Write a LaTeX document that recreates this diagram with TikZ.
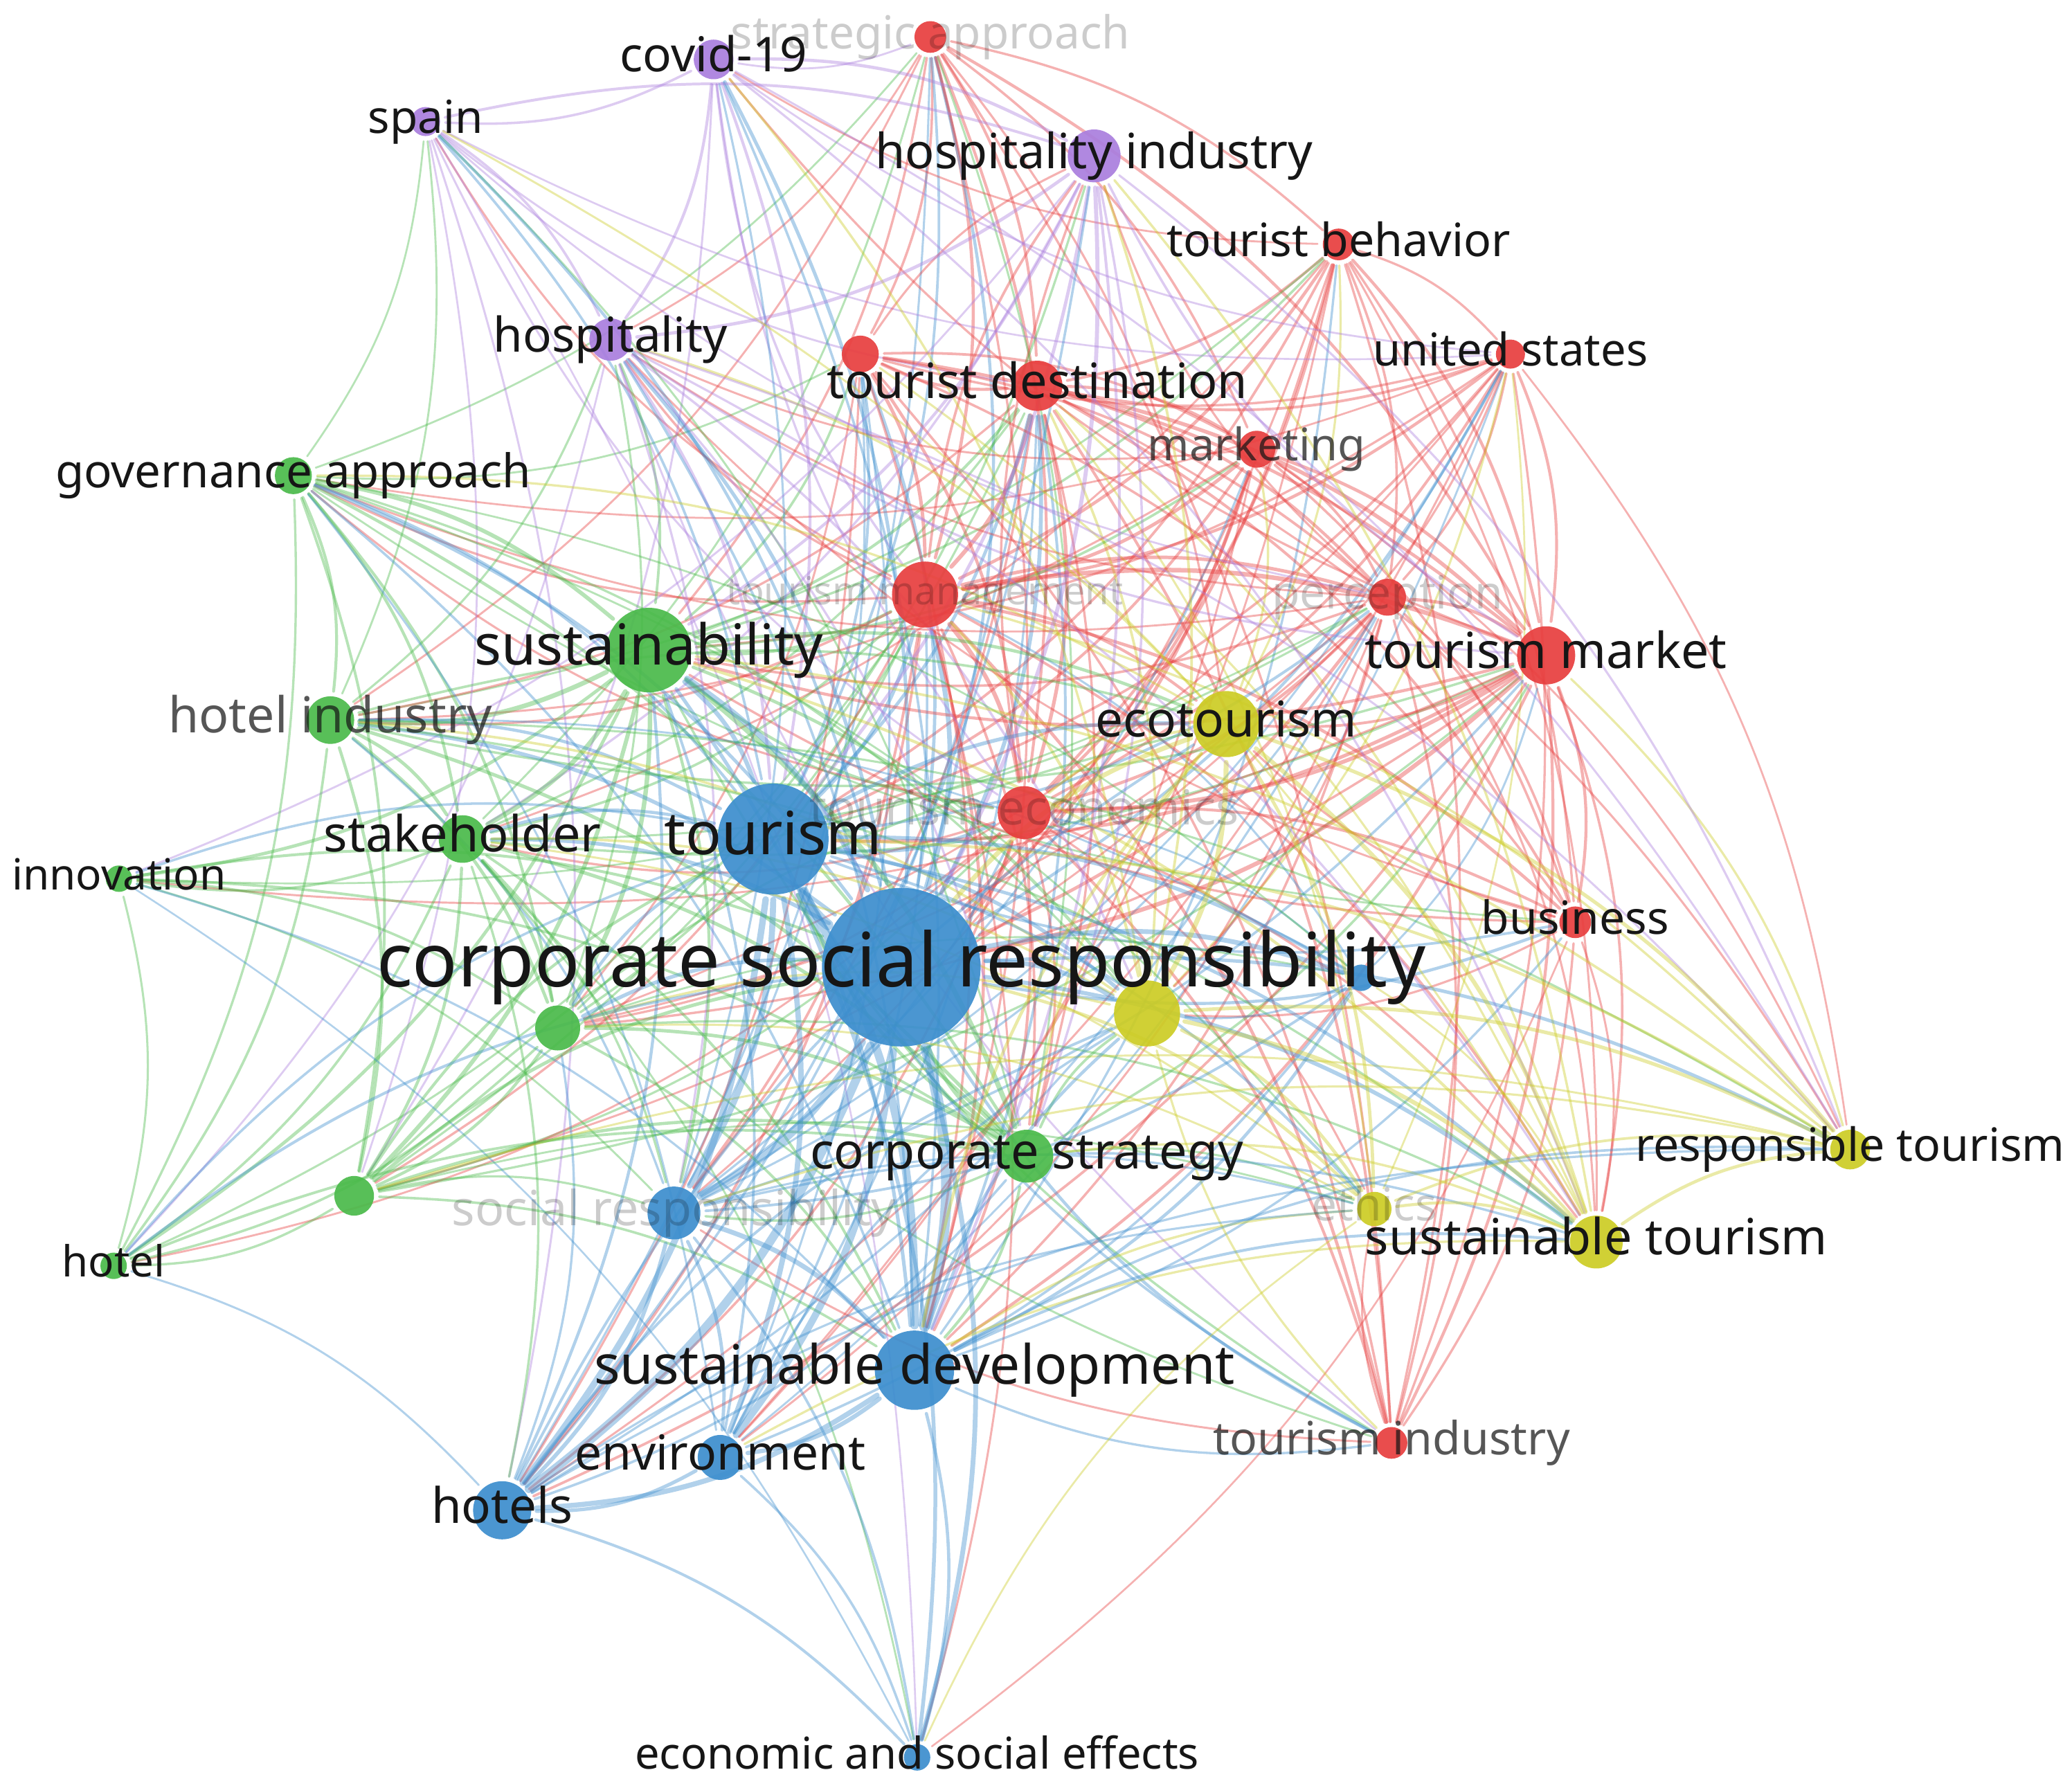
\documentclass[tikz,border=0pt]{standalone}
\usepackage{fontspec}
\setmainfont{Noto Sans}
\usepackage{graphicx}
\definecolor{cR}{RGB}{232,62,62}
\definecolor{cP}{RGB}{170,126,222}
\definecolor{cG}{RGB}{74,186,74}
\definecolor{cB}{RGB}{60,142,206}
\definecolor{cY}{RGB}{204,204,36}
\definecolor{ink}{RGB}{22,22,22}
\pgfdeclarelayer{edgelayer}
\pgfsetlayers{edgelayer,main}
\tikzset{
  kw/.style={circle, inner sep=0pt, fill opacity=0.92},
  lbl/.style={inner sep=0pt, text=ink},
  dimlbl/.style={inner sep=0pt, text=ink, text opacity=0.72},
  faintlbl/.style={inner sep=0pt, text=black, text opacity=0.2},
  link/.style={line cap=round, draw opacity=0.4},
}
% 1 picture unit = 1/20 pt
\newcommand{\kwlab}[2]{\resizebox{\dimexpr #1pt/20\relax}{!}{\vphantom{bg}#2}}
\begin{document}
\begin{tikzpicture}[x=0.05pt,y=-0.05pt]
\useasboundingbox (0,0) rectangle (1568,1353);
% keyword nodes: index / x / y / radius / cluster colour
\foreach \i/\x/\y/\r/\c in {
  1/704/28/12/cR, 2/1013/185/12/cR, 3/1143/268/11/cR, 4/785/292/19/cR,
  5/651/268/14/cR, 6/951/340/14/cR, 7/700/450/25/cR, 8/1050/452/14/cR,
  9/1170/496/22/cR, 10/775/615/20/cR, 11/1192/698/12/cR, 12/1053/1092/12/cR,
  13/540/45/15/cP, 14/322/92/11/cP, 15/828/118/20/cP, 16/462/257/16/cP,
  17/222/360/14/cG, 18/491/492/32/cG, 19/250/545/18/cG, 20/350/635/18/cG,
  21/90/665/10/cG, 22/422/778/17/cG, 23/268/905/15/cG, 24/86/958/10/cG,
  25/777/875/20/cG,
  26/682/732/60/cB, 27/585/635/42/cB, 28/1030/740/10/cB, 29/510/918/20/cB,
  30/692/1037/30/cB, 31/545/1103/17/cB, 32/380/1143/22/cB, 33/694/1330/10/cB,
  34/928/548/25/cY, 35/868/767/25/cY, 36/1040/915/13/cY, 37/1208/940/20/cY,
  38/1400/870/15/cY}{
  \node[kw, fill=\c, minimum size=0.1*\r pt] (n\i) at (\x,\y) {};
  \expandafter\xdef\csname nr\i\endcsname{\r}
  \expandafter\xdef\csname nc\i\endcsname{\c}
}
% links
\begin{pgfonlayer}{edgelayer}
\fill[white] (0,0) rectangle (1568,1353);
\pgfmathsetseed{2024}
\foreach \i in {1,...,37}{
  \pgfmathtruncatemacro\jstart{\i+1}
  \foreach \j in {\jstart,...,38}{
    \edef\ri{\csname nr\i\endcsname}\edef\rj{\csname nr\j\endcsname}
    \edef\ci{\csname nc\i\endcsname}\edef\cj{\csname nc\j\endcsname}
    \ifx\ci\cj \def\fac{2.6}\else\def\fac{1}\fi
    \pgfmathsetmacro\p{\ri*\rj/600*\fac}
    \pgfmathtruncatemacro\ok{rnd<\p}
    \ifnum\ok=1
      \pgfmathsetmacro\w{min(8,1.2+\fac*\ri*\rj/650)*0.05}
      \pgfmathtruncatemacro\pick{rnd<0.5}
      \ifnum\pick=1 \edef\ec{\ci}\else\edef\ec{\cj}\fi
      \draw[link, draw=\ec, line width=\w pt] (n\i) to[bend left=15] (n\j);
    \fi
  }
}
\end{pgfonlayer}
% labels: index / width / text / style
\foreach \i/\w/\t/\s in {
  1/302/strategic approach/faintlbl, 2/260/tourist behavior/lbl,
  3/208/united states/lbl, 4/318/tourist destination/lbl,
  6/165/marketing/dimlbl, 7/300/tourism management/faintlbl,
  8/175/perception/faintlbl, 9/274/tourism market/lbl,
  10/325/tourism economics/faintlbl, 11/142/business/lbl,
  12/270/tourism industry/dimlbl,
  13/142/covid-19/lbl, 14/87/spain/lbl, 15/331/hospitality industry/lbl,
  16/177/hospitality/lbl,
  17/360/governance approach/lbl, 18/264/sustainability/lbl,
  19/245/hotel industry/dimlbl, 20/210/stakeholder/lbl,
  21/162/innovation/lbl, 24/78/hotel/lbl, 25/328/corporate strategy/lbl,
  26/794/corporate social responsibility/lbl, 27/165/tourism/lbl,
  29/336/social responsibility/faintlbl, 30/485/sustainable development/lbl,
  31/220/environment/lbl, 32/107/hotels/lbl,
  33/427/economic and social effects/lbl,
  34/198/ecotourism/lbl, 36/95/ethics/faintlbl,
  37/350/sustainable tourism/lbl, 38/325/responsible tourism/lbl}{
  \node[\s] (l\i) at (n\i.center) {\kwlab{\w}{\t}};
}
\end{tikzpicture}
\end{document}
